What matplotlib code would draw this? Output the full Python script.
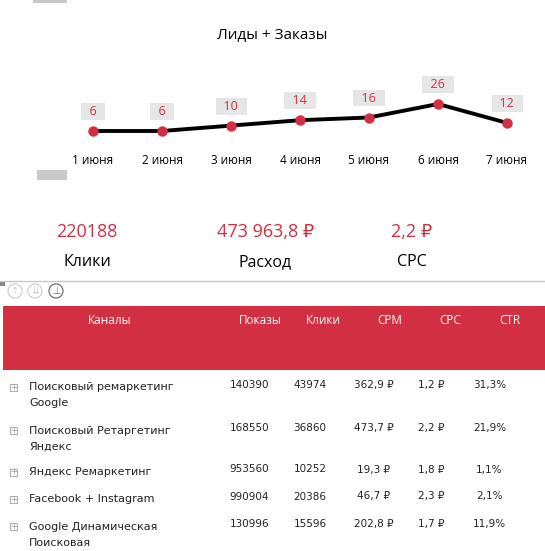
import numpy as np
import matplotlib
matplotlib.use('Agg')
import matplotlib.pyplot as plt
from matplotlib.patches import Rectangle, Circle

# ---- data ----
days = ['1 июня', '2 июня', '3 июня', '4 июня', '5 июня', '6 июня', '7 июня']
leads = [6, 6, 10, 14, 16, 26, 12]

kpi_values = ['220188', '473 963,8 ₽', '2,2 ₽']
kpi_labels = ['Клики', 'Расход', 'CPC']

columns = ['Каналы', 'Показы', 'Клики', 'CPM', 'CPC', 'CTR']
channels = ['Поисковый ремаркетинг\nGoogle',
            'Поисковый Ретаргетинг\nЯндекс',
            'Яндекс Ремаркетинг',
            'Facebook + Instagram',
            'Google Динамическая\nПоисковая']
shows = [140390, 168550, 953560, 990904, 130996]
clicks = [43974, 36860, 10252, 20386, 15596]
cpm = [362.9, 473.7, 19.3, 46.7, 202.8]
cpc = [1.2, 2.2, 1.8, 2.3, 1.7]
ctr = [31.3, 21.9, 1.1, 2.1, 11.9]

RED = '#d32f43'
W, H = 545, 551
UI = ['Open Sans', 'DejaVu Sans']
TB = ['DejaVu Sans']


def fx(x):
    return x / W


def fy(y):
    return 1 - y / H


def rub(v):
    return ('%.1f' % v).replace('.', ',') + ' ₽'


fig = plt.figure(figsize=(W / 100, H / 100), dpi=100)

# ---- line chart ----
ax = fig.add_axes([fx(58.5), fy(139.1), 483 / W, 40.5 / H])
x = np.arange(len(days))
ax.plot(x, leads, color='black', lw=2.8, zorder=2)
ax.plot(x, leads, 'o', color=RED, ms=6.5, zorder=3)
for xi, v in zip(x, leads):
    ax.annotate('  %d  ' % v, (xi, v), xytext=(0, 14),
                textcoords='offset points',
                ha='center', va='center', color=RED, fontsize=9, family=UI,
                bbox=dict(boxstyle='square,pad=0.15', fc='#e6e6e6', ec='none'))
ax.set_xlim(-0.5, 6.5)
ax.set_ylim(0, 30)
ax.set_xticks(x)
ax.set_xticklabels(days, fontsize=8.5, family=UI)
ax.tick_params(axis='x', length=0, pad=10.5)
ax.set_yticks([])
for s in ax.spines.values():
    s.set_visible(False)
ax.patch.set_alpha(0)

fig.text(fx(272), fy(39.3), 'Лиды + Заказы', ha='center', va='baseline',
         fontsize=11, family=UI)

# scrollbar bits
fig.patches.append(Rectangle((fx(37), fy(180)), 30 / W, 10 / H, fc='#c8c8c8',
                             ec='none', transform=fig.transFigure))
fig.patches.append(Rectangle((fx(33), fy(3)), 34 / W, 3 / H, fc='#c8c8c8',
                             ec='none', transform=fig.transFigure))

# ---- KPI cards ----
kpi_x = [87, 265.5, 412]
for kx, v, l in zip(kpi_x, kpi_values, kpi_labels):
    fig.text(fx(kx), fy(237), v, ha='center', va='baseline', fontsize=13,
             color=RED, family=UI)
    fig.text(fx(kx), fy(266), l, ha='center', va='baseline', fontsize=11.5,
             color='black', family=UI)

# separator
fig.lines.append(plt.Line2D([0, 1], [fy(281), fy(281)], color='#c8c8c8',
                            lw=1, transform=fig.transFigure))
fig.patches.append(Rectangle((0, fy(286)), 5 / W, 5 / H, fc='#888888',
                             ec='none', transform=fig.transFigure))

# toolbar icons
for ix, sym, c in zip([15, 35, 56], ['↑', '⇊', '⊥'],
                      ['#d0d0d0', '#d0d0d0', '#707070']):
    fig.patches.append(Circle((fx(ix), fy(291)), 7 / W, fc='none', ec=c,
                              lw=0.9, transform=fig.transFigure))
    fig.text(fx(ix), fy(291), sym, ha='center', va='center', fontsize=7,
             color=c, family=TB)

# ---- table ----
fig.patches.append(Rectangle((fx(3), fy(370)), 542 / W, 64 / H, fc=RED,
                             ec='none', transform=fig.transFigure))
col_x = [110, 260, 323, 390, 450, 510]
for cx, c in zip(col_x, columns):
    fig.text(fx(cx), fy(320), c, ha='center', va='center', fontsize=8.5,
             color='white', family=UI)

num_base = [388, 431, 472.5, 499.5, 527]
val_x = [249.5, 310, 373.5, 431.5, 489.5]
for i, ch in enumerate(channels):
    yb = num_base[i]
    # expand box
    fig.patches.append(Rectangle((fx(10), fy(yb + 3)), 7 / W, 7 / H,
                                 fc='white', ec='#b0b0b0', lw=0.8,
                                 transform=fig.transFigure))
    fig.text(fx(13.5), fy(yb - 0.5), '+', ha='center', va='center',
             fontsize=6, color='#999999', family=TB)
    for j, line in enumerate(ch.split('\n')):
        fig.text(fx(29), fy(yb + 2.5 + 16 * j), line, ha='left',
                 va='baseline', fontsize=8, color='#222222', family=TB)
    vals = [str(shows[i]), str(clicks[i]), rub(cpm[i]), rub(cpc[i]),
            ('%.1f' % ctr[i]).replace('.', ',') + '%']
    for vx, t in zip(val_x, vals):
        fig.text(fx(vx), fy(yb), t, ha='center', va='baseline',
                 fontsize=7.5, color='#222222', family=TB)

fig.savefig('out.png', dpi=100)
